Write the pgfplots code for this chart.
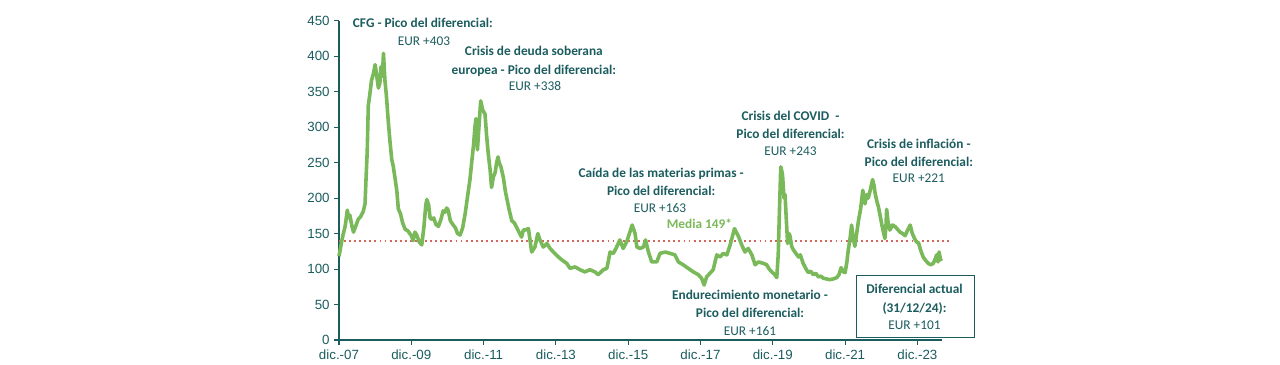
\documentclass[border=0pt]{standalone}
\usepackage{pgfplots}
\pgfplotsset{compat=1.18}
\usepackage{fontspec}
\setmainfont{Carlito}
\newfontfamily\arialfont{Liberation Sans}
\definecolor{teal1}{HTML}{1B5C5E}
\definecolor{lgreen}{HTML}{7AB95A}
\definecolor{mred}{HTML}{D4665C}
\pgfplotstableread{
x y
0 118
0.06 135
0.11 148
0.17 160
0.23 183
0.27 172
0.30 176
0.36 160
0.40 152
0.46 160
0.53 170
0.60 174
0.67 181
0.72 192
0.75 230
0.78 265
0.81 330
0.85 345
0.90 366
0.95 375
1.00 388
1.05 370
1.09 355
1.13 362
1.16 385
1.20 372
1.23 404
1.27 366
1.31 345
1.36 310
1.41 280
1.46 254
1.50 245
1.55 228
1.60 210
1.64 185
1.70 178
1.76 165
1.83 156
1.90 154
1.96 150
2.01 146
2.05 140
2.10 152
2.15 148
2.22 138
2.29 134
2.35 160
2.40 190
2.43 198
2.48 190
2.52 172
2.56 170
2.62 172
2.68 163
2.75 160
2.82 170
2.88 182
2.93 180
2.98 186
3.02 183
3.08 168
3.16 162
3.22 158
3.28 150
3.35 148
3.42 158
3.49 178
3.55 200
3.62 225
3.67 250
3.72 274
3.76 300
3.79 312
3.83 268
3.87 300
3.92 337
3.97 325
4.04 318
4.08 290
4.13 262
4.18 240
4.22 215
4.27 230
4.32 236
4.36 250
4.40 258
4.43 250
4.48 244
4.55 228
4.60 210
4.64 200
4.70 185
4.78 168
4.85 165
4.92 158
4.98 152
5.05 145
5.10 155
5.15 155
5.24 157
5.33 124
5.42 131
5.50 150
5.56 141
5.65 131
5.75 136
5.84 129
5.93 124
6.07 117
6.16 113
6.30 108
6.39 101
6.53 103
6.67 99
6.80 96
6.94 99
7.08 96
7.17 92
7.31 99
7.41 101
7.50 124
7.59 122
7.68 131
7.77 141
7.86 129
7.96 138.5
8.02 148
8.11 162
8.19 150
8.24 131
8.33 129
8.42 131
8.48 141
8.56 124
8.65 110
8.79 110
8.88 122
9.02 124
9.16 122
9.29 120
9.39 110
9.52 106
9.66 101
9.80 96
9.94 92
10.03 87
10.10 77.5
10.17 89
10.26 94
10.35 99
10.45 120
10.54 117
10.63 122
10.73 120
10.82 134
10.94 157
11.05 146
11.14 134
11.23 124
11.32 129
11.42 120
11.51 106
11.60 110
11.74 108
11.83 106
11.90 100
11.97 96
12.04 93
12.11 88
12.15 120
12.18 175
12.22 244
12.25 238
12.27 232
12.31 200
12.34 205
12.36 183
12.41 136
12.45 150
12.48 146
12.52 132
12.57 127
12.64 122
12.71 117
12.76 120
12.84 108
12.90 102
12.98 95
13.05 97
13.12 92
13.19 94
13.26 89
13.33 90
13.40 87
13.49 86
13.58 85
13.67 86
13.77 88
13.83 92
13.89 102
13.95 96
14.00 95
14.05 110
14.09 128
14.13 140
14.18 162
14.22 145
14.27 132
14.32 150
14.37 168
14.43 185
14.49 211
14.52 200
14.55 192
14.60 205
14.64 200
14.70 212
14.76 226
14.80 218
14.83 207
14.88 195
14.92 188
14.97 175
15.01 164
15.06 152
15.10 143
15.13 160
15.15 184
15.19 165
15.24 155
15.31 162
15.38 160
15.45 156
15.52 152
15.59 150
15.66 147
15.73 155
15.80 162
15.86 150
15.93 142
15.98 138
16.03 137
16.10 125
16.16 117
16.23 112
16.30 108
16.37 106
16.44 108
16.50 115
16.53 120
16.57 110
16.60 124
16.64 113
16.67 115
}\spread
\begin{document}
\begin{tikzpicture}[
  ann/.style={text=teal1, anchor=base, font=\fontsize{10}{12}\selectfont},
  annb/.style={text=teal1, anchor=base, font=\bfseries\fontsize{10}{12}\selectfont},
]
\useasboundingbox (0,0) rectangle (960pt,273pt);
\begin{axis}[
  at={(254.25pt,18pt)}, anchor=south west,
  scale only axis, width=452.5pt, height=239.5pt,
  xmin=0, xmax=16.69, ymin=0, ymax=450,
  axis x line*=bottom, axis y line*=left,
  axis line style={teal1, line width=0.8pt, -},
  tick align=outside, major tick length=3.5pt,
  tick style={teal1, line width=0.8pt},
  xtick={0,2,4,6,8,10,12,14,16},
  xticklabels={dic.-07,dic.-09,dic.-11,dic.-13,dic.-15,dic.-17,dic.-19,dic.-21,dic.-23},
  ytick={0,50,...,450},
  /pgf/number format/assume math mode=true,
  ticklabel style={font=\arialfont\fontsize{10}{12}\selectfont, text=teal1},
  clip=false,
]
\addplot[mred, line width=1.4pt, dash pattern=on 1.4pt off 2.4pt] coordinates {(0,140) (16.9,140)};
\addplot[lgreen, line width=2.7pt, line join=round] table[x=x,y=y] {\spread};
\node[annb] at (axis cs:2.32,440.5) {CFG - Pico del diferencial:};
\node[ann] at (axis cs:2.35,415.5) {EUR +403};
\node[annb] at (axis cs:5.39,400.5) {Crisis de deuda soberana};
\node[annb] at (axis cs:5.39,374.5) {europea - Pico del diferencial:};
\node[ann] at (axis cs:5.42,351) {EUR +338};
\node[annb] at (axis cs:8.91,228.5) {Caída de las materias primas -};
\node[annb] at (axis cs:8.91,203) {Pico del diferencial:};
\node[ann] at (axis cs:8.88,179) {EUR +163};
\node[annb, text=lgreen] at (axis cs:9.97,156.5) {Media 149*};
\node[annb] at (axis cs:12.49,310) {Crisis del COVID\ \ -};
\node[annb] at (axis cs:12.49,284.5) {Pico del diferencial:};
\node[ann] at (axis cs:12.49,260.5) {EUR +243};
\node[annb] at (axis cs:16.04,270) {Crisis de inflación -};
\node[annb] at (axis cs:16.04,244.5) {Pico del diferencial:};
\node[ann] at (axis cs:16.04,221.5) {EUR +221};
\node[annb] at (axis cs:11.37,57) {Endurecimiento monetario -};
\node[annb] at (axis cs:11.37,32) {Pico del diferencial:};
\node[ann] at (axis cs:11.37,7) {EUR +161};
\node[draw=teal1, line width=0.8pt, minimum width=88.2pt, minimum height=46.5pt, inner sep=0pt, anchor=center] at (axis cs:15.95,47.5) {};
\node[annb] at (axis cs:15.92,65) {Diferencial actual};
\node[annb] at (axis cs:15.92,38.5) {(31/12/24):};
\node[ann] at (axis cs:15.92,15.5) {EUR +101};
\end{axis}
\end{tikzpicture}
\end{document}
